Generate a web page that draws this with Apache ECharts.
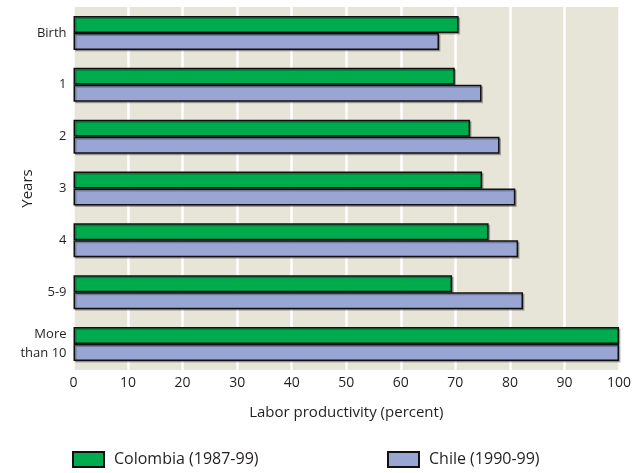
<!DOCTYPE html>
<html>
<head>
    <meta charset="utf-8">
    <title>Labor productivity</title>
    <script src="https://cdn.jsdelivr.net/npm/echarts@6/dist/echarts.min.js"></script>
    <style>
        html, body { margin: 0; padding: 0; background: #fff; }
        #chart1 { width: 640px; height: 473px; }
    </style>
</head>
<body>
<div id="chart1"></div>
<script type="text/javascript">
    // data
    var years = ['Birth', '1', '2', '3', '4', '5-9', 'More\nthan 10'];
    var colombia = [70.6, 69.9, 72.7, 74.9, 76.1, 69.4, 100];
    var chile = [67.0, 74.8, 78.1, 81.0, 81.5, 82.4, 100];
    var xTicks = [0, 10, 20, 30, 40, 50, 60, 70, 80, 90, 100];

    var textColor = '#231f20';
    var font = 'Open Sans';

    var myChart1 = echarts.init(document.getElementById('chart1'));
    myChart1.setOption({
        animation: false,
        textStyle: { fontFamily: font, color: textColor },
        grid: {
            left: 73.5, right: 21, top: 7, bottom: 103,
            outerBoundsMode: 'none',
            containLabel: false,
            show: true, backgroundColor: '#e7e4d8', borderWidth: 0
        },
        legend: [
            {
                data: ['Colombia (1987-99)'],
                left: 72, top: 451, padding: 0,
                icon: 'rect', itemWidth: 31, itemHeight: 15, itemGap: 10,
                textStyle: { fontFamily: font, fontSize: 16, color: textColor, padding: [0, 0, 0, 5] }
            },
            {
                data: ['Chile (1990-99)'],
                left: 387, top: 451, padding: 0,
                icon: 'rect', itemWidth: 31, itemHeight: 15, itemGap: 10,
                textStyle: { fontFamily: font, fontSize: 16, color: textColor, padding: [0, 0, 0, 5] }
            }
        ],
        xAxis: {
            type: 'value',
            min: xTicks[0], max: xTicks[xTicks.length - 1], interval: 10,
            name: 'Labor productivity (percent)',
            nameLocation: 'middle', nameGap: 35,
            nameTextStyle: { fontSize: 15, color: textColor },
            axisLine: { show: false },
            axisTick: { show: false },
            axisLabel: { fontSize: 14, color: textColor, margin: 6 },
            splitLine: { show: true, lineStyle: { color: '#ffffff', width: 2.5 } }
        },
        yAxis: {
            type: 'category',
            data: years,
            inverse: true,
            name: 'Years',
            nameLocation: 'middle', nameGap: 38,
            nameMoveOverlap: false,
            nameTextStyle: { fontSize: 15, color: textColor },
            axisLine: { show: false },
            axisTick: { show: false },
            axisLabel: { fontSize: 13, color: textColor, margin: 7, lineHeight: 19 },
            splitLine: { show: false }
        },
        series: [
            {
                name: 'Colombia (1987-99)',
                type: 'bar',
                data: colombia,
                barWidth: 17,
                barGap: '0%',
                itemStyle: { color: '#00ab4e', borderColor: '#111', borderWidth: 1.5,
                    shadowColor: 'rgba(0,0,0,0.25)', shadowOffsetX: 1.5, shadowOffsetY: 1.5 }
            },
            {
                name: 'Chile (1990-99)',
                type: 'bar',
                data: chile,
                barWidth: 17,
                barGap: '0%',
                itemStyle: { color: '#99a5d3', borderColor: '#111', borderWidth: 1.5,
                    shadowColor: 'rgba(0,0,0,0.25)', shadowOffsetX: 1.5, shadowOffsetY: 1.5 }
            }
        ]
    });
</script>
</body>
</html>
